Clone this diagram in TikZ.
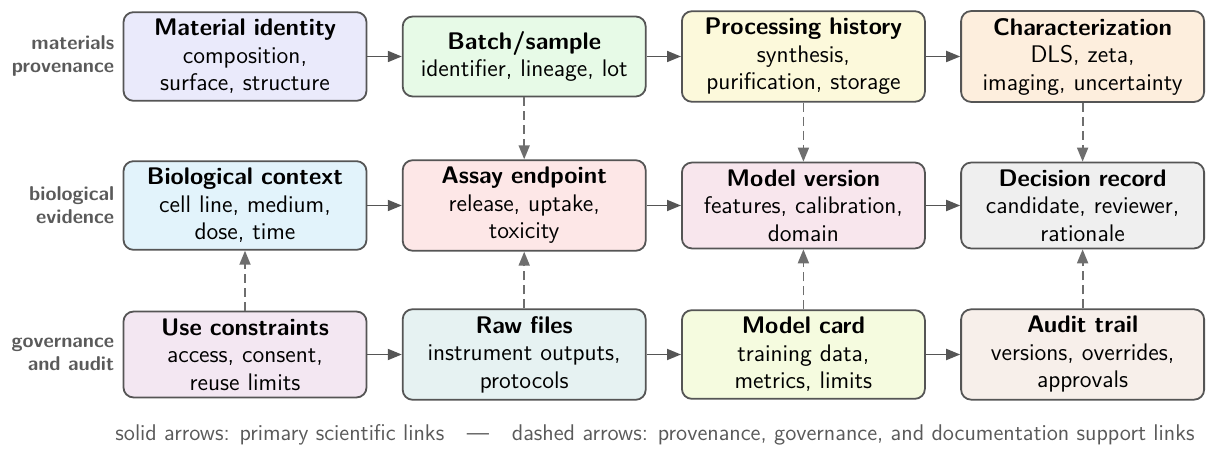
\documentclass[tikz,border=0pt]{standalone}
\usepackage{tikz}
\usetikzlibrary{arrows.meta,positioning}

\definecolor{edgegray}{HTML}{555555}
\definecolor{dashgray}{HTML}{6E6E6E}
\definecolor{labelgray}{HTML}{5A5A5A}
\definecolor{matfill}{HTML}{EAEAFB}
\definecolor{batchfill}{HTML}{E7FAE7}
\definecolor{procfill}{HTML}{FCF9DB}
\definecolor{charfill}{HTML}{FDEEDD}
\definecolor{biofill}{HTML}{E2F3FB}
\definecolor{assayfill}{HTML}{FDE7E7}
\definecolor{modelfill}{HTML}{F8E6ED}
\definecolor{decfill}{HTML}{EFEFEF}
\definecolor{usefill}{HTML}{F3E7F2}
\definecolor{rawfill}{HTML}{E6F2F2}
\definecolor{cardfill}{HTML}{F5FBDF}
\definecolor{auditfill}{HTML}{F7EFEA}

\begin{document}
\begin{tikzpicture}[x=139.6pt,y=-74.5pt,font=\sffamily]
	\useasboundingbox (-122.5pt,28.25pt) rectangle (484pt,-198.25pt);

	\begin{scope}[every node/.style={rounded corners=5pt,draw=edgegray,line width=0.9pt,
			minimum width=121.5pt,minimum height=40pt,text width=115.5pt,inner xsep=3pt,inner ysep=3.5pt,
			align=center,font=\sffamily\fontsize{12}{13.75}\selectfont}]
		% materials provenance
		\node[fill=matfill] (MAT) at (0,0) {\textbf{Material identity}\\composition,\\surface, structure};
		\node[fill=batchfill] (BAT) at (1,0) {\textbf{Batch/sample}\\identifier, lineage, lot};
		\node[fill=procfill] (PRO) at (2,0) {\textbf{Processing history}\\synthesis,\\purification, storage};
		\node[fill=charfill] (CHA) at (3,0) {\textbf{Characterization}\\DLS, zeta,\\imaging, uncertainty};

		% biological evidence
		\node[fill=biofill] (BIO) at (0,1) {\textbf{Biological context}\\cell line, medium,\\dose, time};
		\node[fill=assayfill] (ASS) at (1,1) {\textbf{Assay endpoint}\\release, uptake,\\toxicity};
		\node[fill=modelfill] (MOD) at (2,1) {\textbf{Model version}\\features, calibration,\\domain};
		\node[fill=decfill] (DEC) at (3,1) {\textbf{Decision record}\\candidate, reviewer,\\rationale};

		% governance and audit
		\node[fill=usefill] (USE) at (0,2) {\textbf{Use constraints}\\access, consent,\\reuse limits};
		\node[fill=rawfill] (RAW) at (1,2) {\textbf{Raw files}\\instrument outputs,\\protocols};
		\node[fill=cardfill] (CAR) at (2,2) {\textbf{Model card}\\training data,\\metrics, limits};
		\node[fill=auditfill] (AUD) at (3,2) {\textbf{Audit trail}\\versions, overrides,\\approvals};
	\end{scope}

	\begin{scope}[every node/.style={anchor=east,align=right,inner sep=0pt,text=labelgray,
			font=\sffamily\bfseries\fontsize{10}{11.5}\selectfont}]
		\node (R1) at ([xshift=-4pt]MAT.west) {materials\\provenance};
		\node (R2) at ([xshift=-4pt]BIO.west) {biological\\evidence};
		\node (R3) at ([xshift=-4pt]USE.west) {governance\\and audit};
	\end{scope}

	\node[text=labelgray,font=\sffamily\fontsize{11.35}{12}\selectfont] (LEG) at (205pt,-189.25pt)
		{solid arrows: primary scientific links\quad\textemdash\quad dashed arrows: provenance, governance, and documentation support links};

	\begin{scope}[>={Triangle[length=7pt,width=5.5pt]},line width=0.9pt]
		\draw[->,edgegray] (MAT) -- (BAT);
		\draw[->,edgegray] (BAT) -- (PRO);
		\draw[->,edgegray] (PRO) -- (CHA);

		\draw[->,edgegray] (BIO) -- (ASS);
		\draw[->,edgegray] (ASS) -- (MOD);
		\draw[->,edgegray] (MOD) -- (DEC);

		\draw[->,edgegray] (USE) -- (RAW);
		\draw[->,edgegray] (RAW) -- (CAR);
		\draw[->,edgegray] (CAR) -- (AUD);
	\end{scope}

	\begin{scope}[>={Triangle[length=7pt,width=5.5pt]},line width=0.9pt,dashgray,dash pattern=on 4.5pt off 2.5pt]
		\draw[->] (BAT) -- (ASS);
		\draw[->] (PRO) -- (MOD);
		\draw[->] (CHA) -- (DEC);

		\draw[->] (USE) -- (BIO);
		\draw[->] (RAW) -- (ASS);
		\draw[->] (CAR) -- (MOD);
		\draw[->] (AUD) -- (DEC);
	\end{scope}
\end{tikzpicture}
\end{document}
